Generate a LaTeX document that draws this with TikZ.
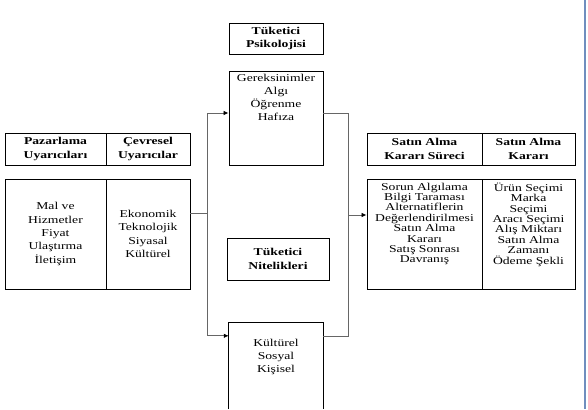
\documentclass[tikz,border=0pt]{standalone}
\usepackage{fontspec}
\setmainfont[FakeStretch=1.3]{Liberation Serif}
\usetikzlibrary{arrows.meta}
\tikzset{
  cell/.style={draw, line width=0.9pt, align=center, inner sep=0pt, font=\fontsize{10.5}{13.3}\selectfont},
  head/.style={cell, font=\fontsize{10.5}{13.3}\selectfont\bfseries},
  words/.style={align=center, inner sep=0pt, font=\fontsize{10.5}{13.3}\selectfont},
  link/.style={draw=black!60, line width=0.8pt},
  tip/.style={-{Latex[length=5pt,width=4.5pt,color=black]}},
}
\begin{document}
\begin{tikzpicture}[x=1pt, y=-1pt]
\useasboundingbox (0,0) rectangle (588,409);

% left tables
\node[head, minimum width=101pt, minimum height=32pt] (pzH) at (55.5,149) {Pazarlama\\Uyarıcıları};
\node[head, minimum width=84pt, minimum height=32pt] (cvH) at (148,149) {Çevresel\\Uyarıcılar};
\node[cell, minimum width=101pt, minimum height=110pt] (pzB) at (55.5,234) {Mal ve\\Hizmetler\\Fiyat\\Ulaştırma\\İletişim};
\node[cell, minimum width=84pt, minimum height=110pt] (cvB) at (148,234) {Ekonomik\\Teknolojik\\Siyasal\\Kültürel};

% middle boxes
\node[head, minimum width=94pt, minimum height=31pt] (psyH) at (276,38.5) {Tüketici\\Psikolojisi};
\node[cell, minimum width=94pt, minimum height=94pt] (psyB) at (276,118) {};
\node[words, anchor=north] (psyT) at ([yshift=-3pt]psyB.north) {Gereksinimler\\Algı\\Öğrenme\\Hafıza};
\node[head, minimum width=102pt, minimum height=42pt] (nitH) at (278,259) {Tüketici\\Nitelikleri};
\node[minimum width=94pt, minimum height=86pt, inner sep=0pt] (kltB) at (276,366) {};
\draw[line width=0.9pt] (kltB.south west) -- (kltB.north west) -- (kltB.north east) -- (kltB.south east);
\node[words, anchor=north] (kltT) at ([yshift=-16pt]kltB.north) {Kültürel\\Sosyal\\Kişisel};

% right tables
\node[head, minimum width=115pt, minimum height=32pt] (stH) at (424.5,149) {Satın Alma\\Kararı Süreci};
\node[head, minimum width=93pt, minimum height=32pt] (kaH) at (528.5,149) {Satın Alma\\Kararı};
\node[cell, minimum width=115pt, minimum height=110pt] (stB) at (424.5,234) {};
\node[cell, minimum width=93pt, minimum height=110pt] (kaB) at (528.5,234) {};
\node[words, anchor=north, font=\fontsize{10.5}{10.4}\selectfont] (stT) at ([yshift=-4pt]stB.north) {Sorun Algılama\\Bilgi Taraması\\Alternatiflerin\\Değerlendirilmesi\\Satın Alma\\Kararı\\Satış Sonrası\\Davranış};
\node[words, anchor=north, font=\fontsize{10.5}{10.4}\selectfont] (kaT) at ([yshift=-4pt]kaB.north) {Ürün Seçimi\\Marka\\Seçimi\\Aracı Seçimi\\Alış Miktarı\\Satın Alma\\Zamanı\\Ödeme Şekli};

% connectors
\coordinate (jl) at (207,213);
\coordinate (jr) at (348,215);
\draw[link] (cvB.east |- jl) -- (jl);
\draw[link, tip] (jl) |- ([yshift=5pt]psyB.west);
\draw[link, tip] (jl) |- ([yshift=-13pt]kltB.north west);
\draw[link] ([yshift=5pt]psyB.east) -| (jr);
\draw[link] ([yshift=-14pt]kltB.north east) -| (jr);
\draw[link, tip] (jr) -- (jr -| stB.west);

% window edge
\draw[line width=1.6pt, color={rgb,255:red,112;green,142;blue,190}] (585,0) -- (585,409);
\end{tikzpicture}
\end{document}
